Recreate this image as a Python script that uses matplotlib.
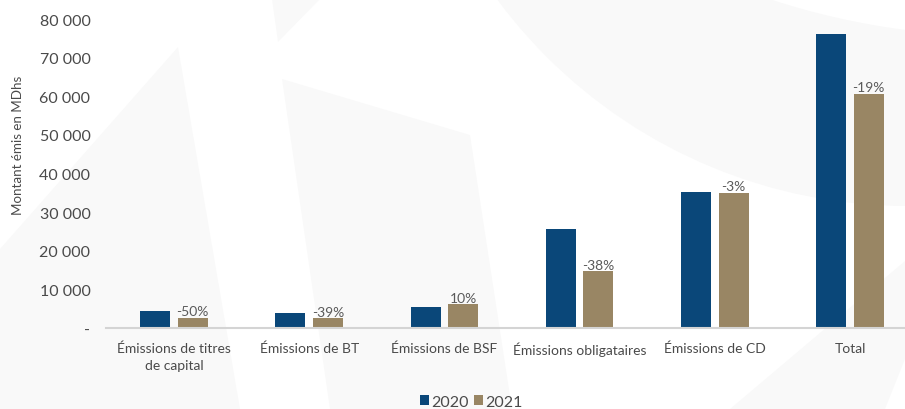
import matplotlib
matplotlib.use("Agg")
import matplotlib.pyplot as plt
from matplotlib.patches import Polygon, Circle
from matplotlib.transforms import Affine2D

plt.rcParams["font.family"] = ["Lato", "DejaVu Sans"]

# Donnees (MDhs)
categories = ["Émissions de titres\nde capital", "Émissions de BT", "Émissions de BSF",
              "Émissions obligataires", "Émissions de CD", "Total"]
val_2020 = [4300, 4000, 5450, 25600, 35300, 76100]
val_2021 = [2700, 2500, 6150, 14700, 34950, 60600]
variations = ["-50%", "-39%", "10%", "-38%", "-3%", "-19%"]
yticks = [0, 10000, 20000, 30000, 40000, 50000, 60000, 70000, 80000]
ytick_labels = ["-", "10 000", "20 000", "30 000", "40 000", "50 000", "60 000", "70 000", "80 000"]

COR_2020 = "#0A4779"
COR_2021 = "#998664"
COR_TEXTE = "#4A4A4A"
COR_FILIGRANE = "#F9F9F9"

W, H = 905, 410
fig = plt.figure(figsize=(W / 100, H / 100), dpi=100)
fig.patch.set_facecolor("white")

# filigrane (coordonnees en pixels, origine en haut a gauche)
px = Affine2D().scale(1 / 100, -1 / 100).translate(0, H / 100) + fig.dpi_scale_trans
fig.patches.append(Circle((907, -303), 510, transform=px, facecolor=COR_FILIGRANE, edgecolor="none", zorder=-2))
fig.patches.append(Circle((1000, -700), 737, transform=px, facecolor="white", edgecolor="none", zorder=-1))
for pts in [
    [(178, 48), (240, 410), (0, 410), (0, 250)],
    [(272, 0), (320, 0), (278, 43)],
    [(282, 80), (470, 136), (512, 410), (330, 410)],
    [(730, 410), (905, 262), (905, 360), (885, 410)],
]:
    fig.patches.append(Polygon(pts, closed=True, transform=px, facecolor=COR_FILIGRANE,
                               edgecolor="none", zorder=-1))

left = 106.4 / W
bottom = (H - 329) / H
height = (329 - 20) / H
ax = fig.add_axes([left, bottom, 1 - left, height])
ax.set_zorder(2)
ax.patch.set_alpha(0)

x = list(range(len(categories)))
larg = 0.222
off = 0.139
ax.bar([i - off for i in x], val_2020, width=larg, color=COR_2020, label="2020", zorder=2)
b21 = ax.bar([i + off for i in x], val_2021, width=larg, color=COR_2021, label="2021", zorder=2)

for rect, txt in zip(b21, variations):
    ax.annotate(txt, (rect.get_x() + rect.get_width() / 2, rect.get_height()),
                xytext=(0, 0.5), textcoords="offset points", ha="center", va="bottom",
                fontsize=10, color="#5A5A5A")

ax.set_xlim(-0.5, -0.5 + (W - 106.4) / 135.2)
ax.set_ylim(0, 80000)
ax.set_yticks(yticks)
ax.set_yticklabels(ytick_labels, fontsize=11.5)
ax.set_xticks(x)
ax.set_xticklabels(categories, linespacing=1.45, fontsize=10)
ax.tick_params(axis="both", length=0, labelcolor=COR_TEXTE)
ax.tick_params(axis="y", pad=11.5)
ax.tick_params(axis="x", pad=10)

for s in ["top", "right", "left"]:
    ax.spines[s].set_visible(False)
ax.spines["bottom"].set_color("#D4D4D4")
ax.spines["bottom"].set_linewidth(1.5)

fig.text(18 / W, 1 - 145 / H, "Montant émis en MDhs", rotation=90, ha="center", va="center",
         fontsize=9.6, color=COR_TEXTE, zorder=3)

leg = fig.legend(loc="center", bbox_to_anchor=(471.5 / W, 1 - 403 / H), ncol=2, frameon=False,
                 fontsize=11.5, handlelength=0.56, handleheight=0.56, handletextpad=0.15,
                 columnspacing=0.35, borderpad=0, labelcolor=COR_TEXTE)
leg.set_zorder(3)

fig.savefig("out.png", dpi=100)
